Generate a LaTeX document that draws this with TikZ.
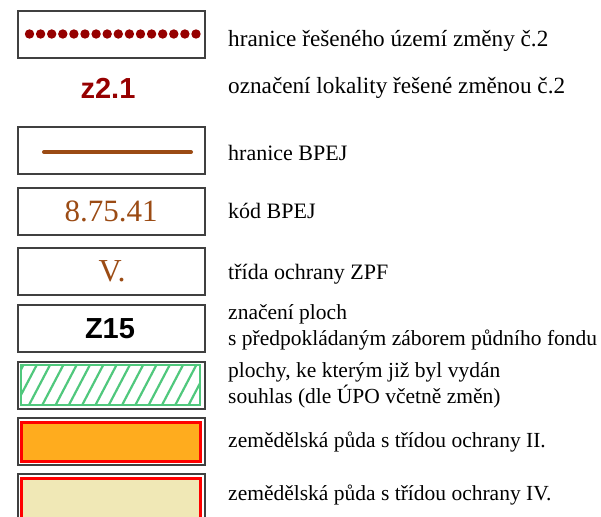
\documentclass[tikz,border=0pt]{standalone}
\usepackage{fontspec}
\setmainfont{Liberation Serif}
\newfontfamily\arialfont{Liberation Sans}
\definecolor{hranred}{RGB}{150,0,0}
\definecolor{bpejbrown}{RGB}{155,75,20}
\definecolor{souhlasgreen}{RGB}{80,200,125}
\definecolor{tridaorange}{RGB}{255,172,30}
\definecolor{tridayellow}{RGB}{240,232,182}
\definecolor{tridared}{RGB}{255,0,0}
\tikzset{
  legbox/.style={draw=black!75, line width=1.2pt, fill=white},
  legtext/.style={anchor=base west, inner sep=0pt, align=left,
    font=\fontsize{21.5}{26}\selectfont},
  innerarea/.style={draw=tridared, line width=3pt}
}
\begin{document}
\begin{tikzpicture}[x=1pt, y=-1pt]
        \useasboundingbox (0,0) rectangle (601,516);

        %Boxes
        \foreach \top in {11,127,188,248,305,362,418,474}
          \draw [legbox] (18,\top) rectangle (205,\top+47);

        %Hranice reseneho uzemi
        \foreach \i in {0,...,15}
          \fill [hranred] (29.5+\i*11.1,34) circle (4.7);
        \node [legtext, font=\fontsize{23.2}{26}\selectfont] (t1) at (228,47) {hranice řešeného území změny č.2};

        %Oznaceni lokality
        \node [font=\arialfont\bfseries\fontsize{29}{29}\selectfont, text=hranred] (z21) at (108,88) {z2.1};
        \node [legtext, font=\fontsize{23.2}{26}\selectfont] (t2) at (228,94) {označení lokality řešené změnou č.2};

        %Hranice BPEJ
        \draw [bpejbrown, line width=4pt, line cap=round] (44,152) -- (191,152);
        \node [legtext, font=\fontsize{22}{26}\selectfont] (t3) at (228,160) {hranice BPEJ};

        %Kod BPEJ
        \node [font=\fontsize{31}{31}\selectfont, text=bpejbrown] (kod) at (111,211) {8.75.41};
        \node [legtext, font=\fontsize{22}{26}\selectfont] (t4) at (228,218) {kód BPEJ};

        %Trida ochrany
        \node [font=\fontsize{32}{32}\selectfont, text=bpejbrown] (trida) at (112,271) {V.};
        \node [legtext, font=\fontsize{22}{26}\selectfont] (t5) at (228,279) {třída ochrany ZPF};

        %Zabor
        \node [font=\arialfont\bfseries\fontsize{29}{29}\selectfont] (z15) at (110,329) {Z15};
        \node [legtext] (t6) at (228,345) {značení ploch\\s předpokládaným záborem půdního fondu};

        %Souhlas
        \begin{scope}
          \clip (21,365) rectangle (200,405);
          \foreach \x in {2.4,15.7,...,200}
            \draw [souhlasgreen, line width=2.2pt] (\x,405) -- (\x+21,365);
        \end{scope}
        \draw [souhlasgreen, line width=2.4pt] (21,365) rectangle (200,405);
        \node [legtext] (t7) at (228,403) {plochy, ke kterým již byl vydán\\souhlas (dle ÚPO včetně změn)};

        %Trida II
        \draw [innerarea, fill=tridaorange] (21,422) rectangle (200,461);
        \node [legtext] (t8) at (228,447) {zemědělská půda s třídou ochrany II.};

        %Trida IV
        \draw [innerarea, fill=tridayellow] (21,478) rectangle (200,520);
        \node [legtext] (t9) at (228,500) {zemědělská půda s třídou ochrany IV.};

\end{tikzpicture}
\end{document}
